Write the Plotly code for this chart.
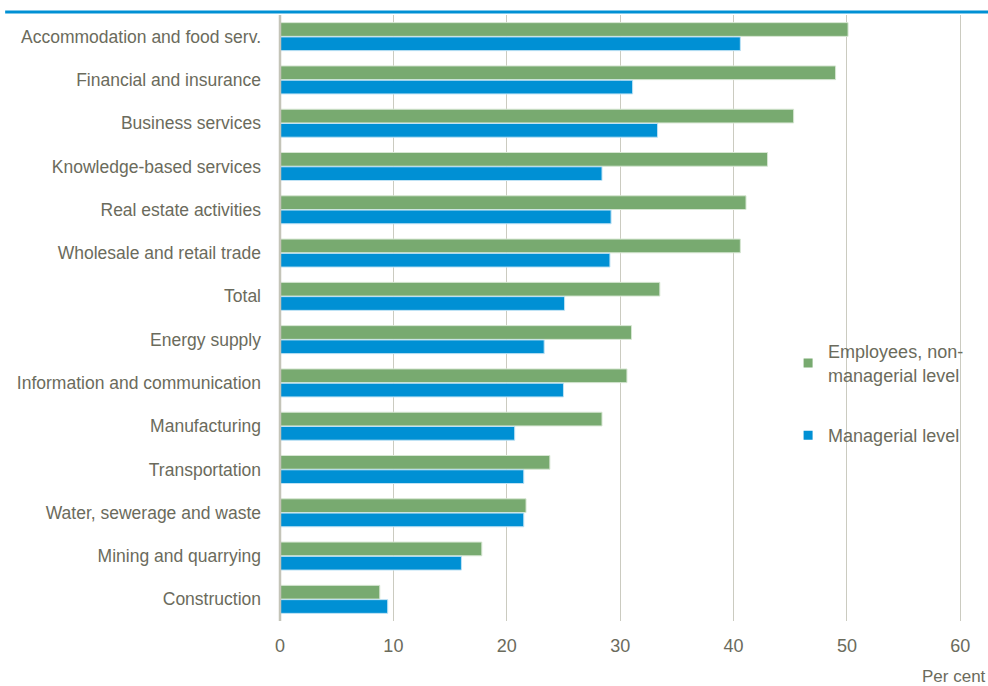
import plotly.graph_objects as go

categories = [
    "Accommodation and food serv.",
    "Financial and insurance",
    "Business services",
    "Knowledge-based services",
    "Real estate activities",
    "Wholesale and retail trade",
    "Total",
    "Energy supply",
    "Information and communication",
    "Manufacturing",
    "Transportation",
    "Water, sewerage and waste",
    "Mining and quarrying",
    "Construction",
]
non_managerial = [50.1, 49.0, 45.3, 43.0, 41.1, 40.6, 33.5, 31.0, 30.6, 28.4, 23.8, 21.7, 17.8, 8.8]
managerial = [40.6, 31.1, 33.3, 28.4, 29.2, 29.1, 25.1, 23.3, 25.0, 20.7, 21.5, 21.5, 16.0, 9.5]
x_ticks = [0, 10, 20, 30, 40, 50, 60]

GREEN = "#78aa70"
BLUE = "#0090d4"
TEXT = "#6b6b5c"
GRID = "#cbcbc0"
FONT = "Liberation Sans, Arial, sans-serif"

fig = go.Figure()
fig.add_trace(go.Bar(y=categories, x=non_managerial, orientation="h",
                     marker=dict(color=GREEN, line=dict(color="#d6e6d2", width=1)),
                     showlegend=False, name="Employees, non-managerial level"))
fig.add_trace(go.Bar(y=categories, x=managerial, orientation="h",
                     marker=dict(color=BLUE, line=dict(color="#bfe2f4", width=1)),
                     showlegend=False, name="Managerial level"))
# legend entries
fig.add_trace(go.Scatter(x=[None], y=[None], mode="markers",
                         marker=dict(symbol="square", size=9, color=GREEN),
                         name="Employees, non-<br>managerial level", legendgroup="a"))
fig.add_trace(go.Scatter(x=[None], y=[None], mode="markers",
                         marker=dict(symbol="square", size=9, color=BLUE),
                         name="Managerial level", legendgroup="b"))

fig.update_layout(
    width=988, height=686,
    margin=dict(l=280, r=26, t=15, b=65, autoexpand=False),
    paper_bgcolor="white", plot_bgcolor="white",
    font=dict(family=FONT, size=17.5, color=TEXT),
    barmode="group", bargap=0.34, bargroupgap=0.04,
    showlegend=True,
    legend=dict(x=0.745, y=0.475, xanchor="left", yanchor="top",
                bgcolor="rgba(0,0,0,0)", font=dict(size=18, color=TEXT),
                traceorder="grouped", tracegroupgap=34, itemwidth=30),
    xaxis=dict(range=[0, 60.15], tickvals=x_ticks, showgrid=True, gridcolor=GRID, gridwidth=1.3,
               zeroline=False, showline=False, ticks="", ticklabelstandoff=12,
               automargin=False, tickfont=dict(size=18, color=TEXT)),
    yaxis=dict(autorange="reversed", showgrid=False, zeroline=False, ticks="",
               showline=False, ticklabelstandoff=18, automargin=False,
               tickfont=dict(size=17.5, color=TEXT)),
    shapes=[
        dict(type="line", xref="paper", yref="paper", x0=0, x1=0, y0=0, y1=1,
             line=dict(color="#c4c4b8", width=2.5)),
        dict(type="line", xref="paper", yref="paper", x0=-0.403, x1=1.1, y0=1.005, y1=1.005,
             line=dict(color=BLUE, width=3)),
    ],
    annotations=[
        dict(text="Per cent", xref="paper", yref="paper", x=1.038, y=-0.092,
             xanchor="right", yanchor="middle", showarrow=False,
             font=dict(size=17, color=TEXT)),
    ],
)

fig.write_html("out.html")
